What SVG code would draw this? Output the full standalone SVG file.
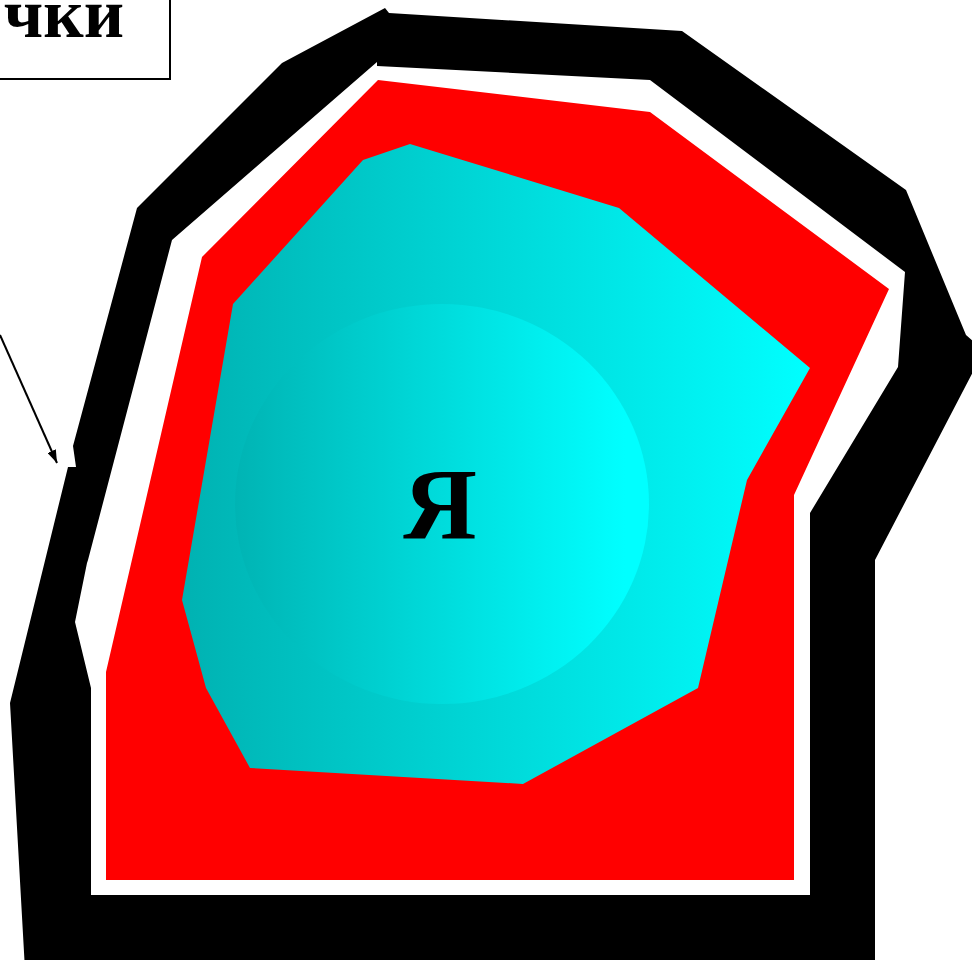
<svg xmlns="http://www.w3.org/2000/svg" width="972" height="960" viewBox="0 0 972 960">
  <style>
    .lbl { font-family: "Liberation Serif", "DejaVu Serif", serif; font-weight: bold; fill: #000; }
  </style>
  <defs>
    <linearGradient id="gVac" gradientUnits="userSpaceOnUse" x1="182" y1="0" x2="810" y2="0">
      <stop offset="0" stop-color="#00b2b2"/>
      <stop offset="1" stop-color="#00ffff"/>
    </linearGradient>
    <linearGradient id="gNuc" gradientUnits="userSpaceOnUse" x1="235" y1="0" x2="625" y2="0">
      <stop offset="0" stop-color="#00b4b4"/>
      <stop offset="1" stop-color="#00ffff"/>
    </linearGradient>
    <marker id="arr" viewBox="0 0 13 9" refX="13" refY="4.5" markerWidth="13" markerHeight="9" markerUnits="userSpaceOnUse" orient="auto">
      <path d="M0,0 L13,4.5 L0,9 Z" fill="#000"/>
    </marker>
  </defs>

  <rect width="972" height="960" fill="#fff"/>

  <g id="wall">
    <polygon fill="#000" points="385,8 389,13 682,31 906,190 966,335 975,343 975,368 875,560 875,970 25,970 10,703 68,467 76,467 73,446 137,208 282,63"/>
    <polygon fill="#fff" points="377,62 377,66 650,80 905,272 898,367 810,513 810,895 91,895 91,688 75,622 87,563 88,560 172,240"/>
  </g>

  <g id="cytoplasm">
    <polygon fill="#ff0000" points="378,80 650,112 889,289 794,495 794,880 106,880 106,672 202,257"/>
  </g>

  <g id="vacuole">
    <polygon fill="url(#gVac)" points="363,160 410,144 619,208 810,368 747,480 698,688 523,784 250,768 206,688 182,600 233,304"/>
  </g>

  <g id="nucleus">
    <ellipse cx="442" cy="504" rx="207" ry="200" fill="url(#gNuc)"/>
    <text class="lbl" x="440" y="539" font-size="102" text-anchor="middle">Я</text>
  </g>

  <g id="label">
    <rect x="-10" y="-10" width="180" height="89" fill="#fff" stroke="#000" stroke-width="2"/>
    <text class="lbl" x="124" y="37" font-size="70" text-anchor="end">чки</text>
  </g>

  <g id="connectors">
    <line x1="0" y1="335" x2="57" y2="463" stroke="#000" stroke-width="2" marker-end="url(#arr)"/>
  </g>
</svg>
